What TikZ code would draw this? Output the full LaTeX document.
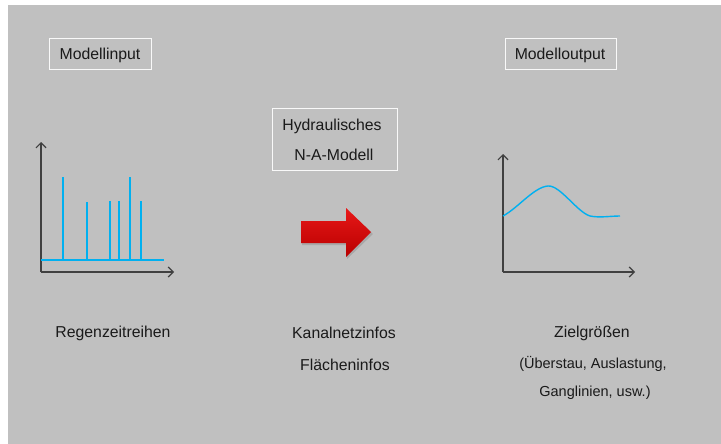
\documentclass[tikz,border=0pt]{standalone}
\usepackage{fontspec}
\setmainfont{Liberation Sans}
\usetikzlibrary{arrows.meta}
\definecolor{bggrey}{HTML}{C0C0C0}
\definecolor{spike}{HTML}{00B0F0}
\definecolor{axisc}{HTML}{404040}
\definecolor{txt}{HTML}{1A1A1A}
\definecolor{redtop}{HTML}{E81818}
\definecolor{redbot}{HTML}{B80000}
\tikzset{
  lbox/.style={draw=white!95!gray, line width=1pt, fill=bggrey, inner sep=0pt},
  lbl/.style={text=txt, inner sep=0pt, font=\fontsize{15.8}{18}\selectfont},
  slbl/.style={text=txt, inner sep=0pt, font=\fontsize{14.5}{17}\selectfont},
  axis/.style={draw=axisc, line width=1.4pt, -{Straight Barb[length=5pt,width=10pt,line width=1.2pt]}},
  blueline/.style={draw=spike, line width=2pt},
}
\begin{document}
\begin{tikzpicture}[x=1pt,y=-1pt]
\useasboundingbox (0,0) rectangle (721,444);
\fill[bggrey] (8,5) rectangle (721,444);

% label boxes
\node[lbox, minimum width=102pt, minimum height=31pt] (min) at (100,54.5) {};
\node[lbl] (mintxt) at (100,55) {Modellinput};
\node[lbox, minimum width=111pt, minimum height=31pt] (mout) at (560.5,54.5) {};
\node[lbl] (mouttxt) at (560,55) {Modelloutput};
\node[lbox, minimum width=125pt, minimum height=61pt] (hyd) at (334.5,139.5) {};
\node[lbl] (hyd1) at (332,126) {Hydraulisches};
\node[lbl] (hyd2) at (334,155) {N-A-Modell};

% left chart
\coordinate (lo) at (41,272);
\coordinate (ly) at (41,142);
\coordinate (lx) at (174,272);
\draw[axis] (lo) -- (ly);
\draw[axis] (lo) -- (lx);
\coordinate (b0) at (41,260);
\coordinate (b1) at (164,260);
\draw[blueline] (b0) -- (b1);
\foreach \x/\t in {63/177, 87/202, 110/201, 119/201, 130/177, 141/201}{
  \draw[blueline] (\x,\t) -- (\x,261);
}

% right chart
\coordinate (ro) at (503,272);
\coordinate (ry) at (503,154);
\coordinate (rx) at (635,272);
\draw[axis] (ro) -- (ry);
\draw[axis] (ro) -- (rx);
\draw[draw=spike, line width=1.4pt]
  (503,216) .. controls (518,208) and (534,187) .. (548,186)
  .. controls (560,185) and (577,212) .. (590,216)
  .. controls (600,218) and (610,216) .. (620,216);

% red arrow
\fill[black, opacity=0.12]
  (302,223) -- (347,223) -- (347,210) -- (373,234) -- (347,259) -- (347,245) -- (302,245) -- cycle;
\shade[top color=redtop, bottom color=redbot, draw=none]
  (301,221) -- (346,221) -- (346,208) -- (371,232) -- (346,257) -- (346,243) -- (301,243) -- cycle;

% bottom texts
\node[lbl] (regen) at (113,333) {Regenzeitreihen};
\node[lbl] (kanal) at (344,333) {Kanalnetzinfos};
\node[lbl] (flaech) at (345,365) {Flächeninfos};
\node[lbl] (ziel) at (592,333) {Zielgrößen};
\node[slbl] (ueber) at (593,364) {(Überstau, Auslastung,};
\node[slbl] (gang) at (595,393) {Ganglinien, usw.)};
\end{tikzpicture}
\end{document}
